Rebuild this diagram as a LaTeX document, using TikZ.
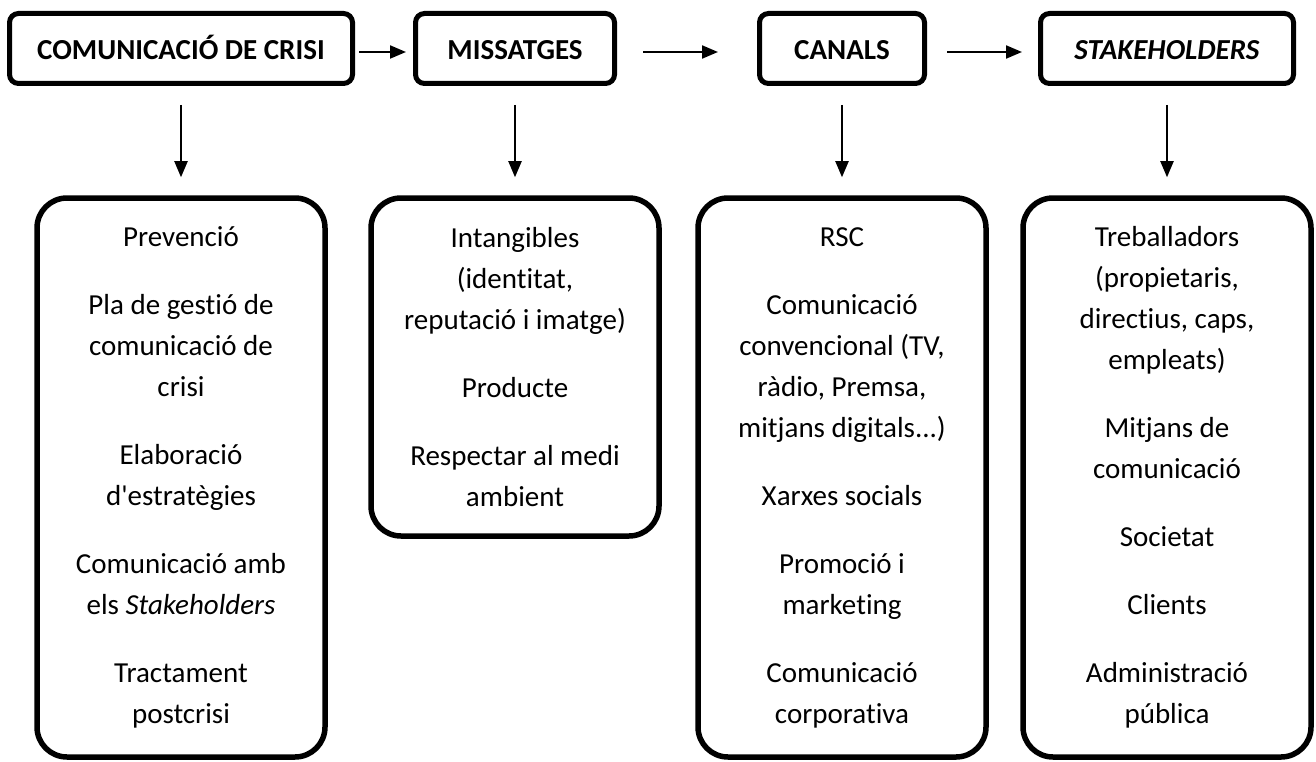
\documentclass[tikz,border=0pt]{standalone}
\usepackage{fontspec}
\setmainfont{Carlito}[Ligatures={NoCommon}]
\usetikzlibrary{positioning, arrows.meta}

\begin{document}
\begin{tikzpicture}[
    x=1pt, y=-1pt,
    % --- estils ---
    headBox/.style={
            draw,
            line width=5pt,
            rounded corners=9pt,
            minimum height=70pt,
            text height=21.5pt,
            text depth=0pt,
            align=center,
            font=\fontsize{29}{41}\selectfont\bfseries
        },
    listBox/.style={
            draw,
            line width=5.5pt,
            rounded corners=30pt,
            minimum width=288pt,
            anchor=north,
            align=center,
            font=\fontsize{29}{41}\selectfont
        },
    flowArrow/.style={
    -{Triangle[length=16pt,width=13pt]},
    line width=2pt
    }
    ]
    \useasboundingbox (0,0) rectangle (1316,762);

    % 1. Caixes de dalt
    \node[headBox, minimum width=343pt] (crisi) at (181,48.5) {COMUNICACIÓ DE CRISI};
    \node[headBox, minimum width=199pt, right=58pt of crisi] (missatges) {MISSATGES};
    \node[headBox, minimum width=165pt, right=140pt of missatges] (canals) {CANALS};
    \node[headBox, minimum width=253pt, right=111pt of canals] (stake) {\textit{STAKEHOLDERS}};

    % 2. Caixes de baix
    \node[listBox, minimum height=559pt, below=109.25pt of crisi] (crisiList) {
        Prevenció\\[27pt]
        Pla de gestió de\\ comunicació de\\ crisi\\[27pt]
        Elaboració\\ d\textquotesingle estratègies\\[27pt]
        Comunicació amb\\ els \textit{Stakeholders}\\[27pt]
        Tractament\\ postcrisi};
    \node[listBox, minimum height=338pt, below=109.25pt of missatges] (missatgesList) {
        Intangibles\\ (identitat,\\ reputació i imatge)\\[27pt]
        Producte\\[27pt]
        Respectar al medi\\ ambient};
    \node[listBox, minimum height=559pt, below=109.25pt of canals] (canalsList) {
        RSC\\[27pt]
        Comunicació\\ convencional (TV,\\ ràdio, Premsa,\\ mitjans digitals...)\\[27pt]
        Xarxes socials\\[27pt]
        Promoció i\\ marketing\\[27pt]
        Comunicació\\ corporativa};
    \node[listBox, minimum height=559pt, below=109.25pt of stake] (stakeList) {
        Treballadors\\ (propietaris,\\ directius, caps,\\ empleats)\\[27pt]
        Mitjans de\\ comunicació\\[27pt]
        Societat\\[27pt]
        Clients\\[27pt]
        Administració\\ pública};

    % 3. Fletxes
    \draw[flowArrow, shorten <=4pt, shorten >=7pt] ([yshift=-3.5pt]crisi.east) -- ([yshift=-3.5pt]missatges.west);
    \draw[flowArrow, shorten <=26pt, shorten >=39pt] ([yshift=-3.5pt]missatges.east) -- ([yshift=-3.5pt]canals.west);
    \draw[flowArrow, shorten <=20pt, shorten >=16pt] ([yshift=-3.5pt]canals.east) -- ([yshift=-3.5pt]stake.west);

    \foreach \top in {crisi, missatges, canals, stake}
        \draw[flowArrow, shorten <=19pt, shorten >=18pt] (\top.south) -- (\top List.north);

\end{tikzpicture}
\end{document}
